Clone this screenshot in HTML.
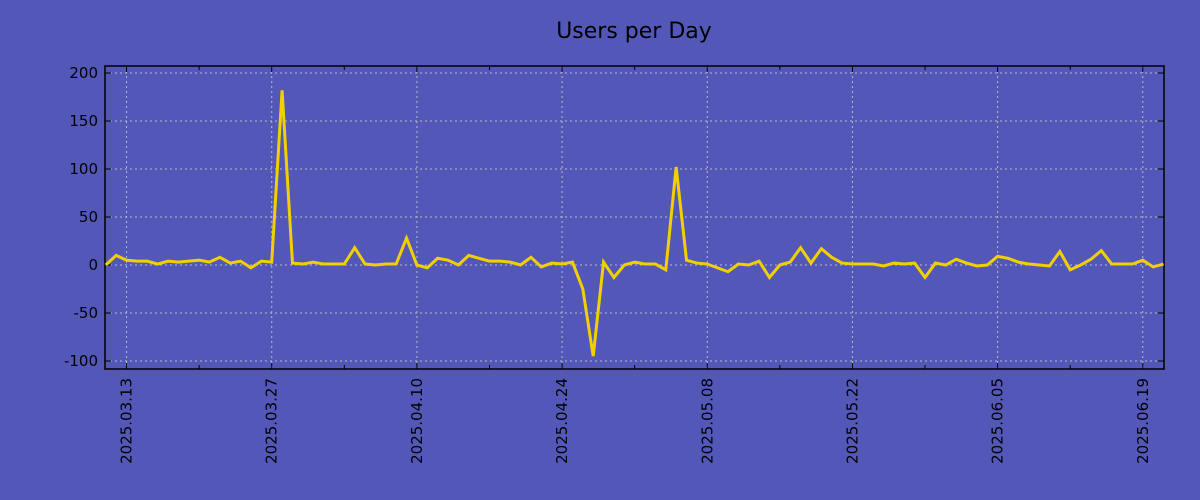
<!DOCTYPE html>
<html><head><meta charset="utf-8"><style>
body{margin:0;background:#5358b8;}
svg{display:block;font-family:"DejaVu Sans","Liberation Sans",sans-serif;}
</style></head><body>
<svg id="chart" width="1200" height="500">
<rect width="1200" height="500" fill="#5358b8"/>
<text x="634" y="38" text-anchor="middle" font-size="22" fill="#000">Users per Day</text>
<g id="grid"></g><g id="axes"></g><g id="series"></g>
</svg>
<script>
const values=[0,10,5,4,4,1,4,3,4,5,3,8,2,4,-3,4,3,182,2,1,3,1,1,1,18,1,0,1,1,28,0,-3,7,5,0,10,7,4,4,3,0,8,-2,2,1,3,-25,-95,3,-13,0,3,1,1,-5,102,5,2,1,-3,-7,1,0,4,-13,0,3,18,2,17,8,2,1,1,1,-1,2,1,2,-13,2,0,6,2,-1,0,9,7,3,1,0,-1,14,-5,0,6,15,1,1,1,5,-2,1];
const yTicks=[200,150,100,50,0,-50,-100];
const xTickLabels=["2025.03.13","2025.03.27","2025.04.10","2025.04.24","2025.05.08","2025.05.22","2025.06.05","2025.06.19"];
const xTickDays=[2,16,30,44,58,72,86,100];
const NS="http://www.w3.org/2000/svg";
const L=105,R=1164,T=66,B=369,dayPx=10.37;
const x=d=>L+0.8+d*dayPx;
const y=v=>265-v*0.96;
function mk(tag,attrs,parent){const e=document.createElementNS(NS,tag);for(const k in attrs)e.setAttribute(k,attrs[k]);parent.appendChild(e);return e;}
const grid=document.getElementById('grid'),axes=document.getElementById('axes'),series=document.getElementById('series');
yTicks.forEach(v=>{
  const g=mk('line',{x1:L,x2:R,y1:y(v),y2:y(v),stroke:'#b8b8c8','stroke-width':1,'stroke-dasharray':'2,3'},grid);
  
  
  mk('line',{x1:L,x2:L+6,y1:y(v),y2:y(v),stroke:'#000'},axes);
  mk('line',{x1:R-6,x2:R,y1:y(v),y2:y(v),stroke:'#000'},axes);
  const t=mk('text',{x:98,y:y(v)+5,'text-anchor':'end','font-size':15,fill:'#000'},axes);
  t.textContent=v;
  
  
});
xTickDays.forEach((d,i)=>{
  const xx=x(d);
  const g=mk('line',{x1:xx,x2:xx,y1:T,y2:B,stroke:'#b8b8c8','stroke-width':1,'stroke-dasharray':'2,3'},grid);
  
  
  mk('line',{x1:xx,x2:xx,y1:B-6,y2:B,stroke:'#000'},axes);
  mk('line',{x1:xx,x2:xx,y1:T,y2:T+6,stroke:'#000'},axes);
  const mx=x(d+7);
  if(mx<R){mk('line',{x1:mx,x2:mx,y1:B-4,y2:B,stroke:'#000'},axes);mk('line',{x1:mx,x2:mx,y1:T,y2:T+4,stroke:'#000'},axes);}
  const t=mk('text',{x:0,y:0,'text-anchor':'end','font-size':15,fill:'#000',transform:`translate(${xx+5},378) rotate(-90)`},axes);
  t.textContent=xTickLabels[i];
  
  
});
const fr=mk('rect',{x:L,y:T,width:R-L,height:B-T,fill:'none',stroke:'#000','stroke-width':1.5},axes);


const pl=mk('polyline',{points:values.map((v,i)=>x(i)+','+y(v)).join(' '),fill:'none',stroke:'#f2d000','stroke-width':3,'stroke-linejoin':'miter'},series);


</script>
</body></html>
